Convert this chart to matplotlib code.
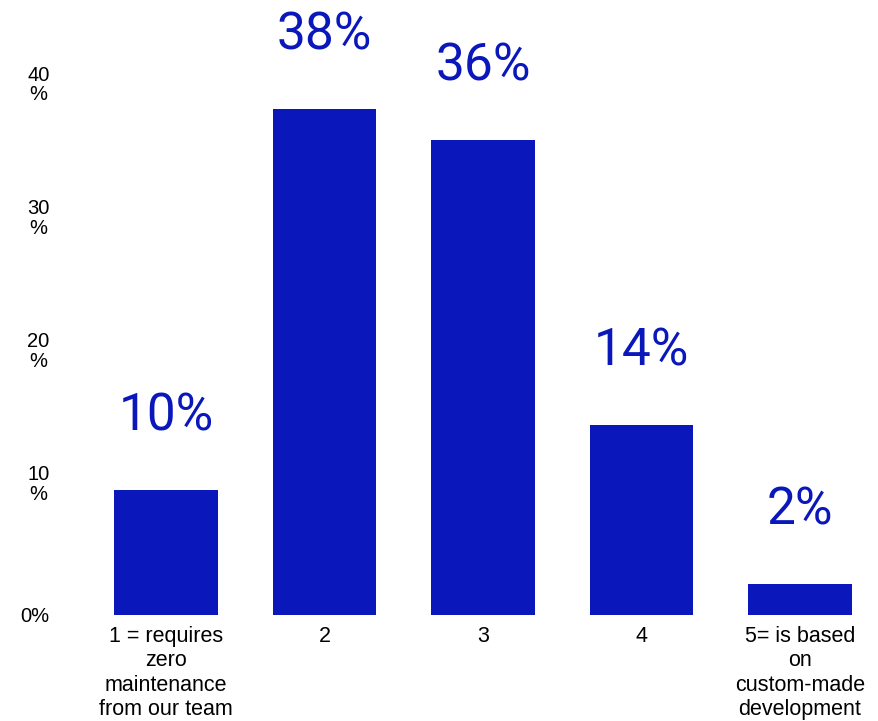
import matplotlib
matplotlib.use("Agg")
import matplotlib.pyplot as plt

categories = ["1 = requires\nzero\nmaintenance\nfrom our team", "2", "3", "4",
              "5= is based\non\ncustom-made\ndevelopment"]
values = [9.4, 38.0, 35.7, 14.3, 2.3]
value_labels = ["10%", "38%", "36%", "14%", "2%"]
y_ticks = [0, 10, 20, 30, 40]
y_tick_labels = ["0%", "10\n%", "20\n%", "30\n%", "40\n%"]

BLUE = "#0A17BA"

fig = plt.figure(figsize=(8.79, 7.21), dpi=100)
ax = fig.add_axes([87 / 879, 106 / 721, 792 / 879, 615 / 721])

x = range(len(categories))
ax.bar(x, values, width=0.655, color=BLUE)
ax.set_xlim(-0.5, 4.5)
ax.set_ylim(0, 46.2)

# value labels sit a fixed distance above each bar
for xi, v, lab in zip(x, values, value_labels):
    ax.annotate(lab, (xi, v), xytext=(0, 53), textcoords="offset points",
                ha="center", va="center", fontsize=37, color=BLUE,
                family="Roboto")

ax.set_xticks(list(x))
ax.set_xticklabels(categories, fontsize=15.5, family="Liberation Sans",
                   linespacing=1.2, va="top")
ax.set_yticks(y_ticks)
ax.set_yticklabels(y_tick_labels, fontsize=14.5, family="Liberation Sans",
                   linespacing=1.06, ha="right", multialignment="center")
ax.tick_params(axis="y", length=0, pad=27)
ax.tick_params(axis="x", length=0, pad=8)

for s in ax.spines.values():
    s.set_visible(False)

fig.savefig("out.png", dpi=100)
